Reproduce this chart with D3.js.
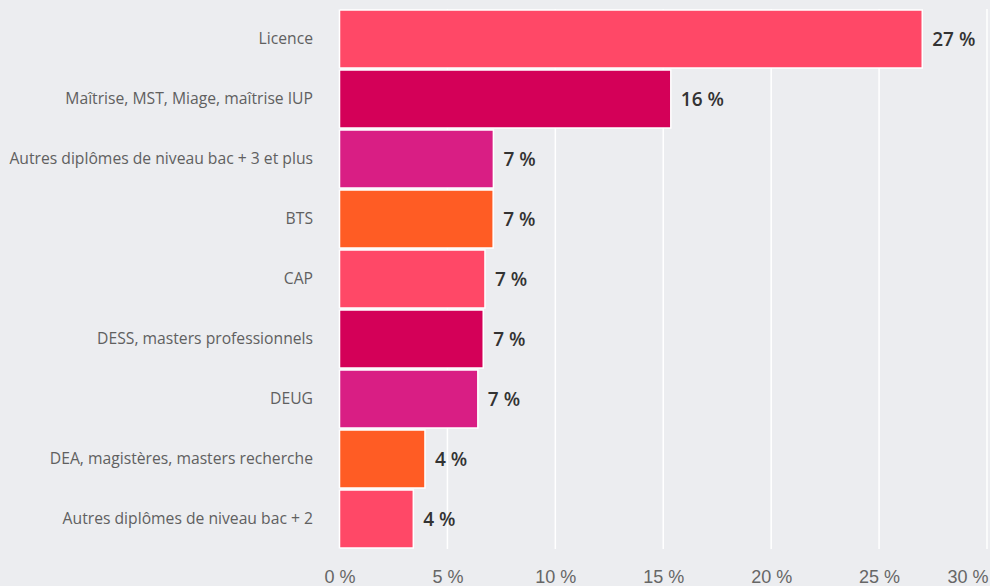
<!DOCTYPE html>
<html lang="fr">
  <head>
    <meta charset="utf-8" />
    <title>Diplômes</title>
    <script src="https://d3js.org/d3.v7.min.js"></script>
    <style>
      html, body { margin: 0; padding: 0; background: #ecedf0; }
      svg { display: block; font-family: "Open Sans", sans-serif; }
      .cat { font-size: 15.7px; fill: #606060; }
      .val { font-size: 19px; font-weight: 600; fill: #333; }
      .axis text { font-size: 18px; fill: #666; }
    </style>
  </head>
  <body>
    <script>
      // data
      const categories = [
        "Licence",
        "Maîtrise, MST, Miage, maîtrise IUP",
        "Autres diplômes de niveau bac + 3 et plus",
        "BTS",
        "CAP",
        "DESS, masters professionnels",
        "DEUG",
        "DEA, magistères, masters recherche",
        "Autres diplômes de niveau bac + 2"
      ];
      const values = [27.0, 15.35, 7.13, 7.12, 6.74, 6.66, 6.41, 3.96, 3.42];
      const valueLabels = ["27 %", "16 %", "7 %", "7 %", "7 %", "7 %", "7 %", "4 %", "4 %"];
      const xTicks = [0, 5, 10, 15, 20, 25, 30];

      const palette = ["#ff4867", "#d40058", "#d91e84", "#ff5c24"];

      const W = 990, H = 586;
      const margin = { top: 9, right: 3, bottom: 37, left: 339.5 };

      const svg = d3.select("body").append("svg")
        .attr("width", W)
        .attr("height", H);

      const x = d3.scaleLinear()
        .domain([0, 30])
        .range([margin.left, W - margin.right]);

      const y = d3.scaleBand()
        .domain(categories)
        .range([margin.top, H - margin.bottom])
        .padding(0);

      // grid lines
      svg.append("g")
        .selectAll("line")
        .data(xTicks.slice(1))
        .join("line")
        .attr("x1", d => x(d))
        .attr("x2", d => x(d))
        .attr("y1", margin.top)
        .attr("y2", H - margin.bottom)
        .attr("stroke", "#fff")
        .attr("stroke-width", 1.5);

      // left axis line
      svg.append("line")
        .attr("x1", x(0)).attr("x2", x(0))
        .attr("y1", margin.top).attr("y2", H - margin.bottom)
        .attr("stroke", "#ccd6eb");

      // bars
      svg.append("g")
        .selectAll("rect")
        .data(values)
        .join("rect")
        .attr("x", x(0))
        .attr("y", (d, i) => y(categories[i]) + 1)
        .attr("width", d => x(d) - x(0))
        .attr("height", y.bandwidth() - 2)
        .attr("fill", (d, i) => palette[i % palette.length])
        .attr("stroke", "#fff")
        .attr("stroke-width", 1.5);

      // value labels
      svg.append("g")
        .selectAll("text")
        .data(values)
        .join("text")
        .attr("class", "val")
        .attr("x", d => x(d) + 10)
        .attr("y", (d, i) => y(categories[i]) + y.bandwidth() / 2)
        .attr("dy", "0.35em")
        .text((d, i) => valueLabels[i]);

      // category labels
      svg.append("g")
        .selectAll("text")
        .data(categories)
        .join("text")
        .attr("class", "cat")
        .attr("x", 313)
        .attr("y", d => y(d) + y.bandwidth() / 2)
        .attr("dy", "0.35em")
        .attr("text-anchor", "end")
        .text(d => d);

      // x axis
      const gx = svg.append("g")
        .attr("class", "axis")
        .attr("transform", `translate(0,${H - margin.bottom})`)
        .call(d3.axisBottom(x).tickValues(xTicks).tickSize(0).tickPadding(21)
          .tickFormat(d => d + " %"));
      gx.select(".domain").remove();
      gx.selectAll("text").attr("font-family", null).attr("font-size", null);
      // keep the last label inside the frame
      gx.selectAll(".tick").filter(d => d === 30).select("text")
        .attr("text-anchor", "end")
        .attr("x", 1);
    </script>
  </body>
</html>
